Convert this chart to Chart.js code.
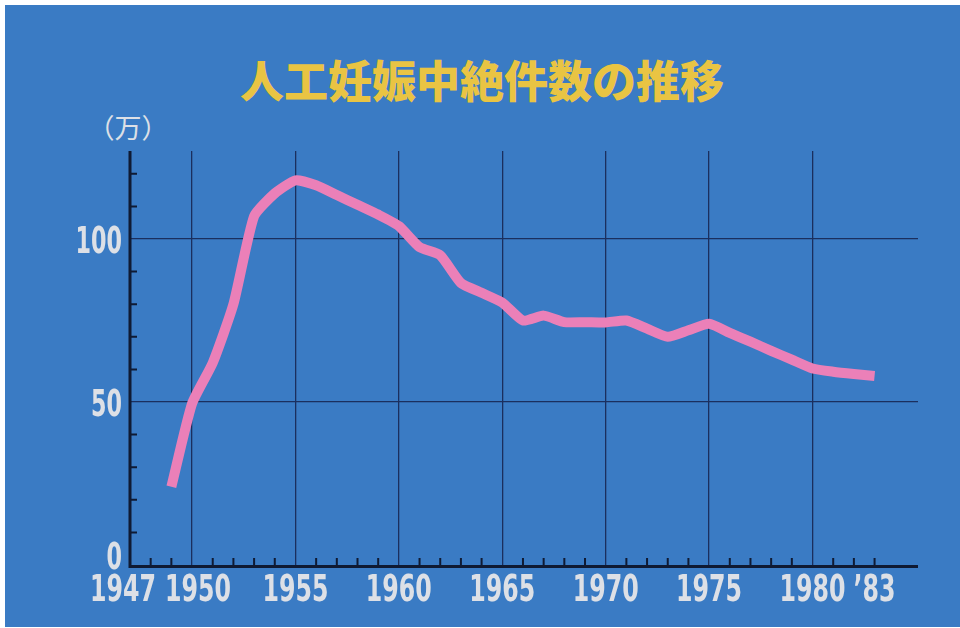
<!DOCTYPE html>
<html lang="ja">
<head>
<meta charset="utf-8">
<title>人工妊娠中絶件数の推移</title>
<script src="https://cdn.jsdelivr.net/npm/chart.js@4.4.1/dist/chart.umd.min.js"></script>
<style>
  html, body { margin: 0; padding: 0; background: #fff; overflow: hidden; }
  #slide {
    position: absolute; left: 5px; top: 5px; width: 955px; height: 622px;
    background: #3a7bc4;
  }
  #title {
    position: absolute; left: 2px; top: 56px; width: 960px;
    text-align: center; color: #e9c443;
    font: 900 44px/46px "Noto Sans CJK JP", sans-serif;
  }
  #unit {
    position: absolute; left: 86px; top: 112px; width: 84px;
    text-align: center; color: #dde0e6;
    font: 400 27px/30px "Noto Sans CJK JP", sans-serif;
  }
  #chart { position: absolute; left: 0; top: 0; }
</style>
</head>
<body>
<div id="slide"></div>
<div id="title">人工妊娠中絶件数の推移</div>
<div id="unit">（万）</div>
<canvas id="chart" width="960" height="628"></canvas>
<script>
// 年次と中絶件数（万件）
const years = [
  1949, 1950, 1951, 1952, 1953, 1954, 1955, 1956, 1957, 1958,
  1959, 1960, 1961, 1962, 1963, 1964, 1965, 1966, 1967, 1968,
  1969, 1970, 1971, 1972, 1973, 1974, 1975, 1976, 1977, 1978,
  1979, 1980, 1981, 1982, 1983
];
const abortions = [
  24, 49.5, 62, 80, 107, 114, 118, 116.5, 113.5, 110.5,
  107.5, 104, 97.5, 95, 86.5, 83.5, 80.5, 75, 76.5, 74.5,
  74.5, 74.4, 75, 72.5, 70, 72, 74, 71.2, 68.5, 65.7,
  63, 60.3, 59.3, 58.6, 58
];

// 目盛り
const xTickYears = [1947, 1950, 1955, 1960, 1965, 1970, 1975, 1980, 1983];
const xTickLabels = ['1947', '1950', '1955', '1960', '1965', '1970', '1975', '1980', '\u201983'];
const yTickValues = [0, 50, 100];
const yTickLabels = ['0', '50', '100'];

const GRID = '#1b2f5e';
const AXIS = '#0f1a33';
const LABEL = '#dde0e6';
const NUM_FONT = 'bold 38px "Liberation Sans Narrow", "DejaVu Sans Condensed", "Liberation Sans", sans-serif';

// 縦長の数字（幅を詰めて描く）
function drawNarrow(ctx, text, x, y, align, digitW) {
  ctx.save();
  ctx.font = NUM_FONT;
  const sx = digitW / ctx.measureText('0').width;
  ctx.translate(x, y);
  ctx.scale(sx, 1);
  ctx.textAlign = align;
  ctx.textBaseline = 'alphabetic';
  ctx.fillStyle = LABEL;
  ctx.fillText(text, 0, 0);
  ctx.restore();
}

const axesPlugin = {
  id: 'slideAxes',
  afterDraw(chart) {
    const { ctx, chartArea, scales: { x, y } } = chart;
    const x0 = x.getPixelForValue(1947);
    const y0 = y.getPixelForValue(0);

    ctx.save();
    ctx.strokeStyle = AXIS;
    ctx.lineCap = 'butt';

    // 軸線
    ctx.lineWidth = 3;
    ctx.beginPath();
    ctx.moveTo(x0, chartArea.top);
    ctx.lineTo(x0, y0 + 1.5);
    ctx.lineTo(chartArea.right, y0 + 1.5);
    ctx.stroke();

    // 補助目盛り
    ctx.lineWidth = 2;
    ctx.beginPath();
    for (let yr = 1948; yr <= 1983; yr++) {
      if (yr % 5 === 0) continue;
      const px = x.getPixelForValue(yr);
      ctx.moveTo(px, y0);
      ctx.lineTo(px, y0 - 7);
    }
    for (let v = 10; v <= 120; v += 10) {
      if (v % 50 === 0) continue;
      const py = y.getPixelForValue(v);
      ctx.moveTo(x0, py);
      ctx.lineTo(x0 + 7, py);
    }
    ctx.stroke();
    ctx.restore();

    // 目盛りラベル
    xTickYears.forEach((yr, i) => {
      let px = x.getPixelForValue(yr);
      if (i === 0) px -= 7;
      if (i === 1) px += 6;
      drawNarrow(ctx, xTickLabels[i], px, y0 + 36, 'center', 16.5);
    });
    yTickValues.forEach((v, i) => {
      const py = v === 0 ? y0 + 3.5 : y.getPixelForValue(v) + 13.5;
      drawNarrow(ctx, yTickLabels[i], x0 - 8, py, 'right', 15.5);
    });
  }
};

new Chart(document.getElementById('chart'), {
  type: 'line',
  data: {
    datasets: [{
      data: years.map((yr, i) => ({ x: yr, y: abortions[i] })),
      borderColor: '#eb80b8',
      borderWidth: 10,
      borderCapStyle: 'butt',
      borderJoinStyle: 'round',
      pointRadius: 0,
      tension: 0.18,
      clip: false
    }]
  },
  options: {
    responsive: false,
    animation: false,
    devicePixelRatio: 1,
    layout: { autoPadding: false, padding: { left: 130, top: 151, right: 42, bottom: 63 } },
    plugins: { legend: { display: false }, title: { display: false }, tooltip: { enabled: false } },
    scales: {
      x: {
        type: 'linear',
        min: 1947,
        max: 1985.1,
        afterBuildTicks: (scale) => { scale.ticks = xTickYears.map(v => ({ value: v })); },
        ticks: { display: false },
        border: { display: false },
        grid: {
          drawTicks: false,
          lineWidth: 1.3,
          color: (c) => (c.tick && c.tick.value % 5 === 0 ? GRID : 'rgba(0,0,0,0)')
        }
      },
      y: {
        min: 0,
        max: 127,
        afterBuildTicks: (scale) => { scale.ticks = yTickValues.map(v => ({ value: v })); },
        ticks: { display: false },
        border: { display: false },
        grid: {
          drawTicks: false,
          lineWidth: 1.3,
          color: (c) => (c.tick && c.tick.value > 0 ? GRID : 'rgba(0,0,0,0)')
        }
      }
    }
  },
  plugins: [axesPlugin]
});
</script>
</body>
</html>
